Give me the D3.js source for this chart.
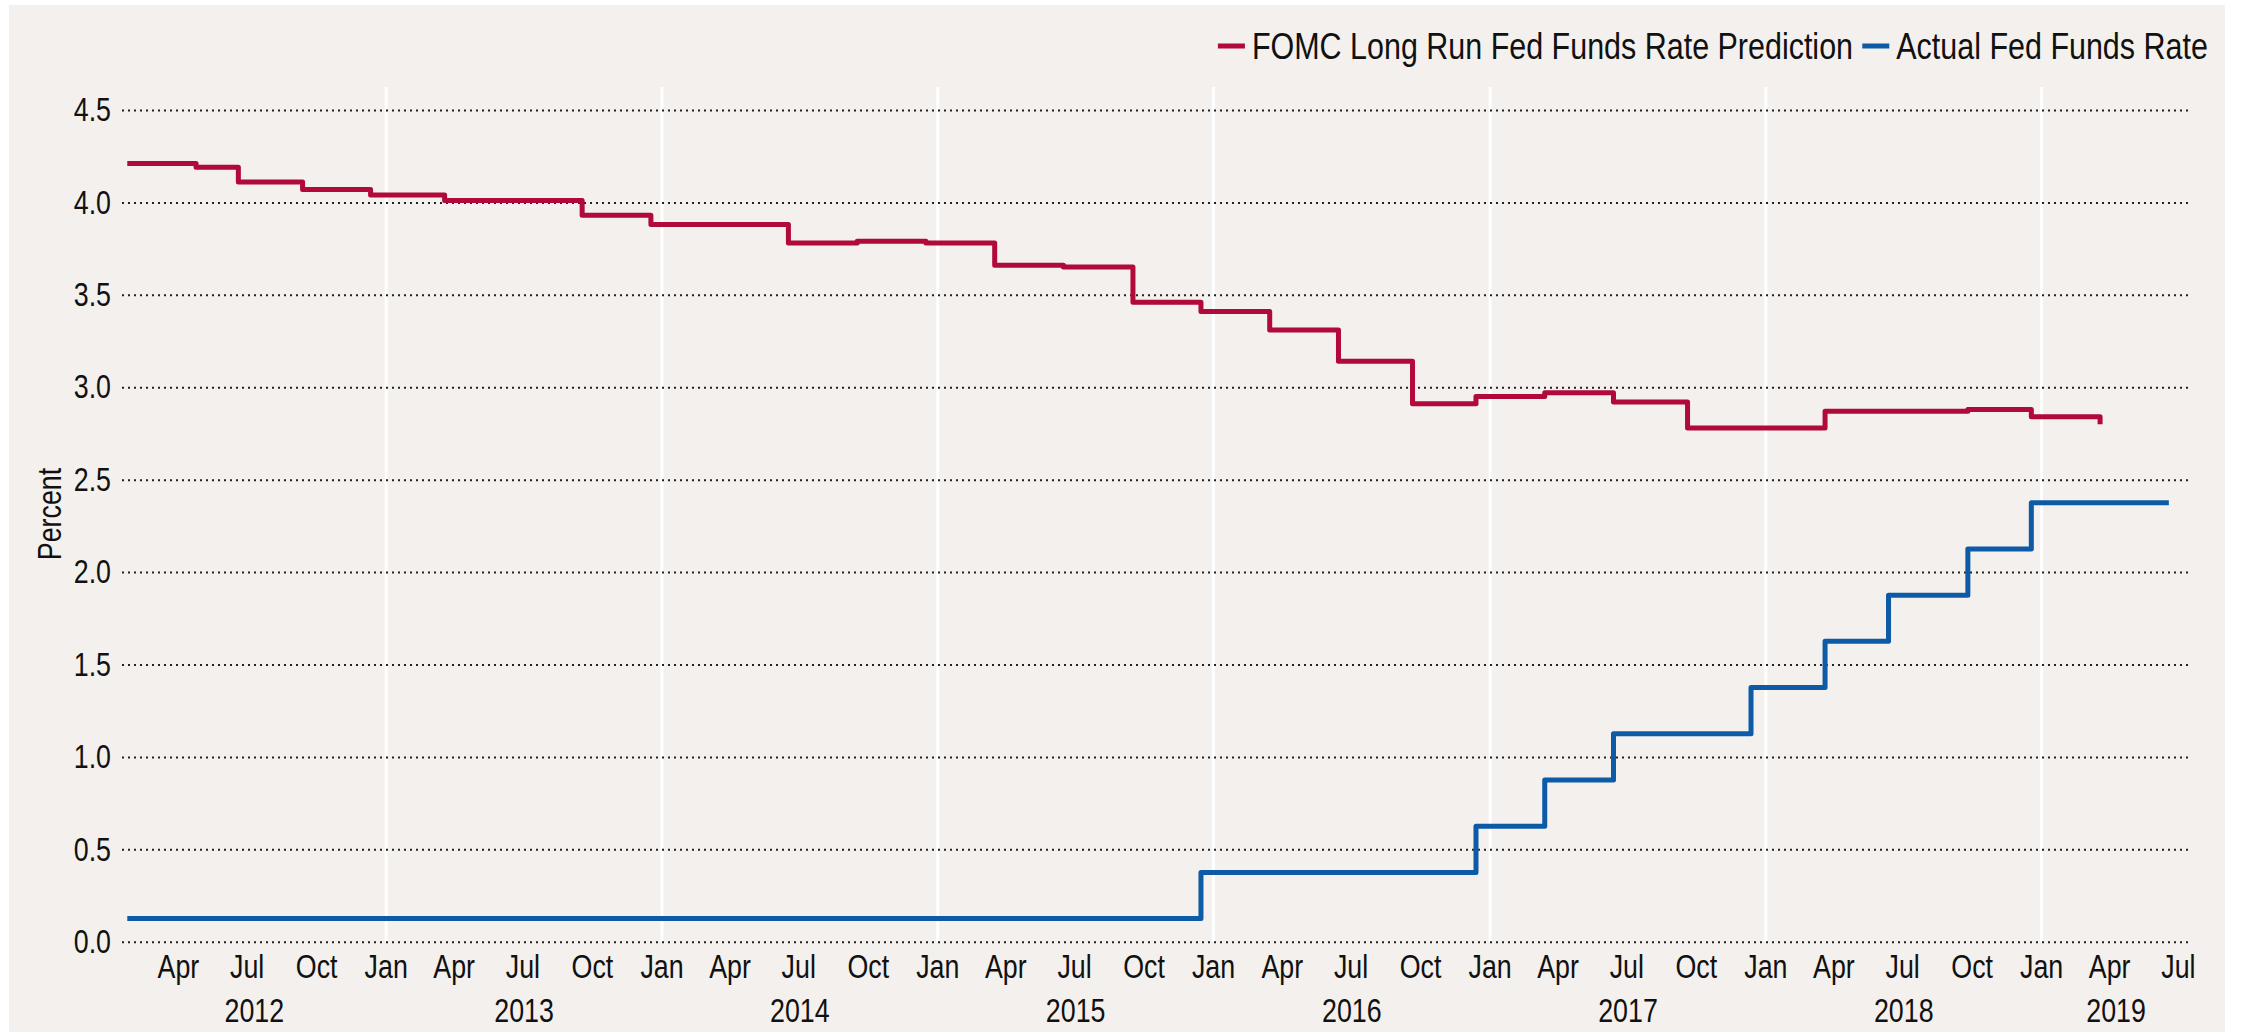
<!DOCTYPE html>
<html>
<head>
<meta charset="utf-8">
<script src="https://cdn.jsdelivr.net/npm/d3@7"></script>
<style>
  html, body { margin: 0; padding: 0; background: #ffffff; }
  svg { display: block; }
  text { font-family: "Liberation Sans", Arial, sans-serif; fill: #111; }
</style>
</head>
<body>
<svg id="chart" width="2241" height="1032"></svg>
<script>
// ---- data ----
const fomcDates = ["2012-01-25","2012-04-25","2012-06-20","2012-09-13","2012-12-12","2013-03-20","2013-06-19","2013-09-18","2013-12-18","2014-03-19","2014-06-18","2014-09-17","2014-12-17","2015-03-18","2015-06-17","2015-09-17","2015-12-16","2016-03-16","2016-06-15","2016-09-21","2016-12-14","2017-03-15","2017-06-14","2017-09-20","2017-12-13","2018-03-21","2018-06-13","2018-09-26","2018-12-19","2019-03-20"];
const fomcLongRun = [4.21,4.19,4.11,4.07,4.04,4.01,4.01,3.93,3.88,3.88,3.78,3.79,3.78,3.66,3.65,3.46,3.41,3.31,3.14,2.91,2.95,2.97,2.92,2.78,2.78,2.87,2.87,2.88,2.84,2.80];
const fedDates = ["2012-01-25","2015-12-16","2016-12-14","2017-03-15","2017-06-14","2017-12-13","2018-03-21","2018-06-13","2018-09-26","2018-12-19","2019-06-19"];
const fedRate = [0.125,0.375,0.625,0.875,1.125,1.375,1.625,1.875,2.125,2.375,2.375];
const seriesNames = ["FOMC Long Run Fed Funds Rate Prediction", "Actual Fed Funds Rate"];
const seriesColors = ["#B1093A", "#0D5BA6"];
const yTicks = [0,0.5,1,1.5,2,2.5,3,3.5,4,4.5];
const yTitle = "Percent";
const xDomain = ["2012-01-18","2019-07-17"];

(function () {
// ---- layout ----
const W = 2241, H = 1032;
const pLeft = 122, pRight = 2190, pTop = 110, pBottom = 941.7, bandTop = 87;
const FS = 33.5, K = 0.8, KL = 0.835; // font size and horizontal condensing
const parse = d3.utcParse("%Y-%m-%d");

// condense text horizontally around its own x position
function condense(sel, k) {
  sel.each(function () {
    const t = d3.select(this);
    const x0 = +(t.attr("x") || 0);
    t.attr("x", x0 / k).attr("transform", `scale(${k},1)`);
  });
}

const svg = d3.select("#chart");
svg.append("rect").attr("x", 9).attr("y", 5).attr("width", 2216).attr("height", H - 5).attr("fill", "#F3F0ED");

const x = d3.scaleUtc().domain(xDomain.map(parse)).range([pLeft, pRight]);
const y = d3.scaleLinear().domain([0, 4.5]).range([pBottom, pTop]);

// white year lines
const yearStarts = d3.utcYear.range(x.domain()[0], x.domain()[1]).filter(d => d > x.domain()[0]);
svg.append("g").attr("transform", `translate(0,${pBottom})`)
  .call(d3.axisBottom(x).tickValues(yearStarts).tickSize(-(pBottom - bandTop)).tickFormat(""))
  .call(g => g.select(".domain").remove())
  .call(g => g.selectAll("line").attr("stroke", "#ffffff").attr("stroke-width", 3));

// dotted horizontal gridlines + y labels
svg.append("g").attr("transform", `translate(${pLeft},0)`)
  .call(d3.axisLeft(y).tickValues(yTicks).tickFormat(d3.format(".1f")).tickSize(-(pRight - pLeft)).tickPadding(11))
  .call(g => g.select(".domain").remove())
  .call(g => g.selectAll("line").attr("stroke", "#222").attr("stroke-width", 2).attr("stroke-dasharray", "2,4"))
  .call(g => g.selectAll("text").attr("font-size", FS).attr("fill", "#111").attr("font-family", null).call(condense, K));

// month labels
const monthTicks = d3.utcMonth.every(3).range(x.domain()[0], x.domain()[1]);
svg.append("g").attr("transform", `translate(0,${pBottom})`)
  .call(d3.axisBottom(x).tickValues(monthTicks).tickFormat(d3.utcFormat("%b")).tickSize(0).tickPadding(13))
  .call(g => g.select(".domain").remove())
  .call(g => g.selectAll("text").attr("font-size", FS).attr("fill", "#111").attr("font-family", null).call(condense, K));

// year labels centred on visible part of each year
const yearMids = d3.utcYear.range(d3.utcYear.floor(x.domain()[0]), x.domain()[1]).map(d => {
  const a = d3.max([d, x.domain()[0]]);
  const b = d3.min([d3.utcYear.offset(d, 1), x.domain()[1]]);
  return new Date((+a + +b) / 2);
});
svg.append("g").attr("transform", `translate(0,${pBottom})`)
  .call(d3.axisBottom(x).tickValues(yearMids).tickFormat(d3.utcFormat("%Y")).tickSize(0).tickPadding(57))
  .call(g => g.select(".domain").remove())
  .call(g => g.selectAll("text").attr("font-size", FS).attr("fill", "#111").attr("font-family", null).call(condense, K));

// y title
svg.append("g").attr("transform", `translate(61,514) rotate(-90)`)
  .append("text").attr("text-anchor", "middle").attr("font-size", FS).text(yTitle).call(condense, K);

// lines
const line = d3.line().x(d => x(d[0])).y(d => y(d[1])).curve(d3.curveStepAfter);
const redData = fomcDates.map((d, i) => [parse(d), fomcLongRun[i]]);
const blueData = fedDates.map((d, i) => [parse(d), fedRate[i]]);
svg.append("path").datum(redData).attr("d", line).attr("fill", "none")
  .attr("stroke", seriesColors[0]).attr("stroke-width", 5).attr("stroke-linejoin", "round");
svg.append("path").datum(blueData).attr("d", line).attr("fill", "none")
  .attr("stroke", seriesColors[1]).attr("stroke-width", 5).attr("stroke-linejoin", "round");

// legend, right aligned
const legend = svg.append("g");
let cursor = 2208;
for (let i = seriesNames.length - 1; i >= 0; i--) {
  const t = legend.append("text").attr("y", 59).attr("font-size", 36.5).text(seriesNames[i]);
  const w = t.node().getComputedTextLength() * KL;
  const tx = cursor - w;
  t.attr("x", tx).call(condense, KL);
  legend.append("line").attr("x1", tx - 34).attr("x2", tx - 7).attr("y1", 46).attr("y2", 46)
    .attr("stroke", seriesColors[i]).attr("stroke-width", 5);
  cursor = tx - 34 - 9;
}
})();
</script>
</body>
</html>
